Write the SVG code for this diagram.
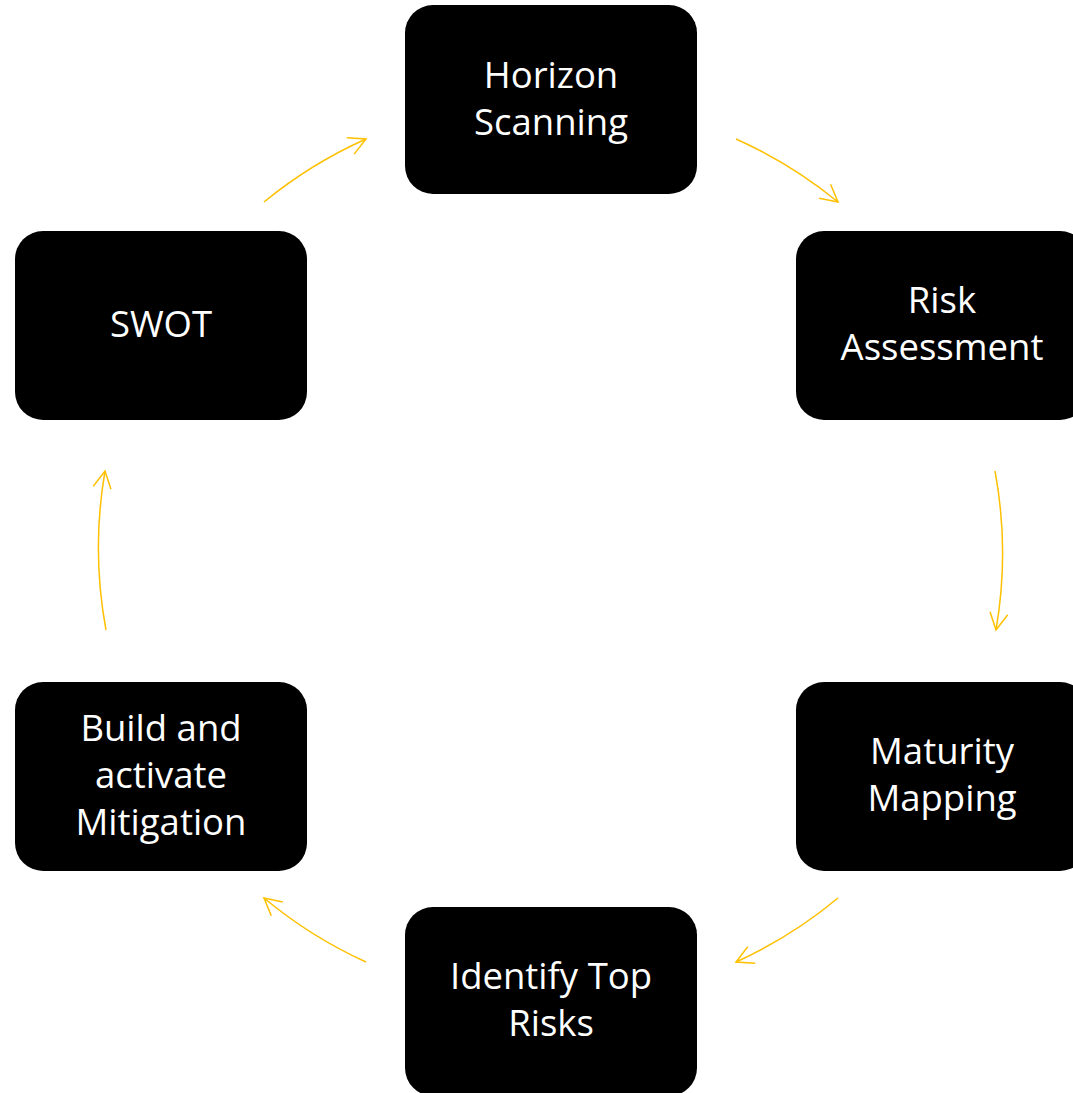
<svg xmlns="http://www.w3.org/2000/svg" width="1073" height="1093" viewBox="0 0 1073 1093">
<style>
.box{fill:#000;}
.lbl{fill:#fff;font-family:"Open Sans","Liberation Sans",sans-serif;font-size:36.5px;text-anchor:middle;}
.arc{fill:none;stroke:#FFC000;stroke-width:1.5;}
</style>
<defs>
<marker id="ah" markerUnits="userSpaceOnUse" markerWidth="40" markerHeight="40" refX="0" refY="0" viewBox="-20 -20 40 40" orient="auto" overflow="visible">
<path d="M-17,-9 L0,0 L-17,9" fill="none" stroke="#FFC000" stroke-width="1.5"/>
</marker>
</defs>
<rect width="1073" height="1093" fill="#fff"/>
<g id="connectors">
<path class="arc" d="M264,202 A451,451 0 0 1 366,139" marker-end="url(#ah)"/>
<path class="arc" d="M736,139 A451,451 0 0 1 838,202" marker-end="url(#ah)"/>
<path class="arc" d="M995,471 A451,451 0 0 1 996,630" marker-end="url(#ah)"/>
<path class="arc" d="M838,898 A451,451 0 0 1 736,962" marker-end="url(#ah)"/>
<path class="arc" d="M366,962 A451,451 0 0 1 264,898" marker-end="url(#ah)"/>
<path class="arc" d="M106,630 A451,451 0 0 1 105,471" marker-end="url(#ah)"/>
</g>
<g id="horizon">
<rect class="box" x="405" y="5" width="292" height="189" rx="28"/>
<text class="lbl" x="551" y="88">Horizon</text>
<text class="lbl" x="551" y="135">Scanning</text>
</g>
<g id="risk-assessment">
<rect class="box" x="796" y="231" width="292" height="189" rx="28"/>
<text class="lbl" x="942" y="313">Risk</text>
<text class="lbl" x="942" y="360">Assessment</text>
</g>
<g id="maturity">
<rect class="box" x="796" y="682" width="292" height="189" rx="28"/>
<text class="lbl" x="942" y="764">Maturity</text>
<text class="lbl" x="942" y="811">Mapping</text>
</g>
<g id="top-risks">
<rect class="box" x="405" y="907" width="292" height="189" rx="28"/>
<text class="lbl" x="551" y="989">Identify Top</text>
<text class="lbl" x="551" y="1036">Risks</text>
</g>
<g id="mitigation">
<rect class="box" x="15" y="682" width="292" height="189" rx="28"/>
<text class="lbl" x="161" y="741">Build and</text>
<text class="lbl" x="161" y="788">activate</text>
<text class="lbl" x="161" y="835">Mitigation</text>
</g>
<g id="swot">
<rect class="box" x="15" y="231" width="292" height="189" rx="28"/>
<text class="lbl" x="161" y="337">SWOT</text>
</g>
</svg>
